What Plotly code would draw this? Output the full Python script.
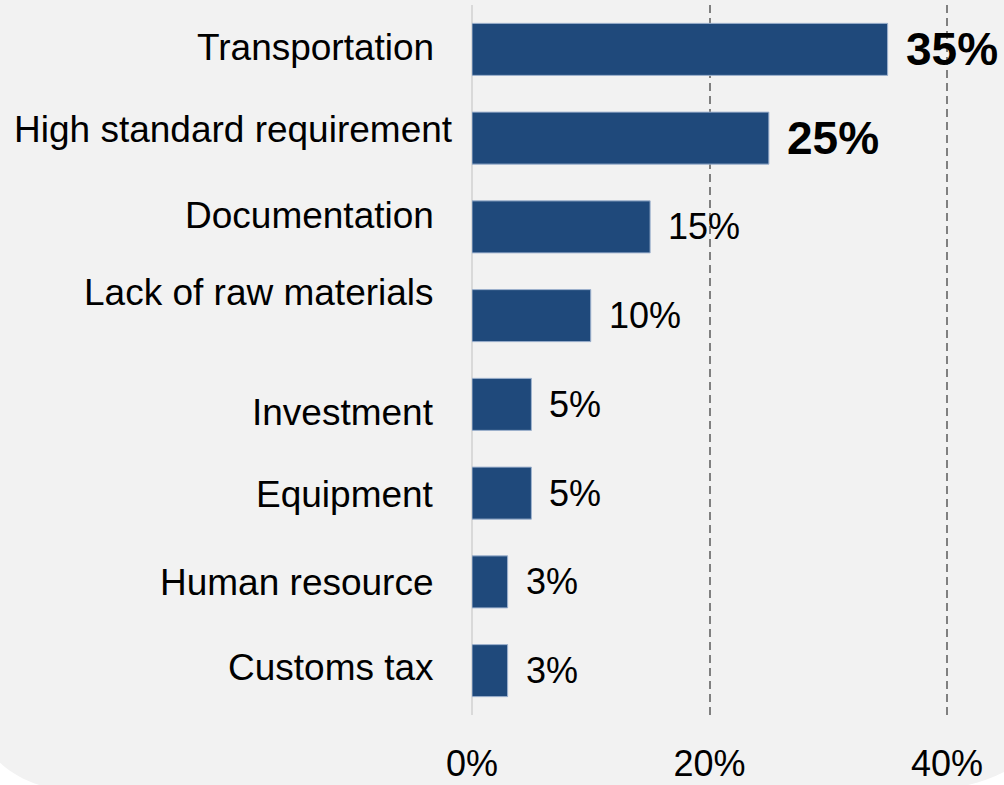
import plotly.graph_objects as go

# Obstacles and share of respondents (%)
categories = [
    "Transportation",
    "High standard requirement",
    "Documentation",
    "Lack of raw materials",
    "Investment",
    "Equipment",
    "Human resource",
    "Customs tax",
]
shares = [35, 25, 15, 10, 5, 5, 3, 3]
highlight = [True, True, False, False, False, False, False, False]
tick_values = [0, 20, 40]
tick_labels = ["0%", "20%", "40%"]

# Per-label nudges (x px, y px) for the category captions
caption_nudges = [(-36, 2), (-17, 9), (-36, 11), (-36, 23),
                  (-36, -8), (-36, -1), (-36, -1), (-36, 3)]

FONT = "Liberation Sans, Arial, sans-serif"
BAR = "#1f497b"
PANEL = "#f2f2f2"

W, H = 1004, 785
ML, MR, MT, MB = 472, 0, 5, 70
PW, PH = W - ML - MR, H - MT - MB
PX_PER_UNIT = 11.875
x_max = PW / PX_PER_UNIT

fig = go.Figure()
fig.add_trace(go.Bar(
    x=shares, y=categories, orientation="h",
    marker=dict(color=BAR, line=dict(color="#9fb3cf", width=1)),
    hoverinfo="skip",
))

# value labels beside each bar
for cat, val, hl in zip(categories, shares, highlight):
    fig.add_annotation(
        x=val, y=cat, xref="x", yref="y",
        text=f"<b>{val}%</b>" if hl else f"{val}%",
        showarrow=False, xanchor="left", yanchor="middle", xshift=16,
        font=dict(family=FONT, size=46 if hl else 36, color="#000000"),
    )

# category captions on the left
for cat, (dx, dy) in zip(categories, caption_nudges):
    fig.add_annotation(
        x=0, y=cat, xref="paper", yref="y", text=cat,
        showarrow=False, xanchor="right", yanchor="middle",
        xshift=dx, yshift=dy,
        font=dict(family=FONT, size=37, color="#000000"),
    )


def to_paper(px, py):
    return (px - ML) / PW, (MT + PH - py) / PH


# rounded grey panel behind the chart
k = 0.5523
left, top, bottom, right = -32.5, -40, 789, 1089
rl, rr = 100, 156
pts = [
    ("M", [(left, top)]),
    ("L", [(left, bottom - rl)]),
    ("C", [(left, bottom - rl + k * rl), (left + rl - k * rl, bottom), (left + rl, bottom)]),
    ("L", [(right - rr, bottom)]),
    ("C", [(right - rr + k * rr, bottom), (right, bottom - rr + k * rr), (right, bottom - rr)]),
    ("L", [(right, top)]),
]
path = ""
for cmd, plist in pts:
    coords = " ".join("%.5f,%.5f" % to_paper(x, y) for x, y in plist)
    path += f"{cmd} {coords} "
path += "Z"
fig.add_shape(type="path", path=path, xref="paper", yref="paper",
              fillcolor=PANEL, line=dict(width=0), layer="below")

fig.update_layout(
    width=W, height=H,
    margin=dict(l=ML, r=MR, t=MT, b=MB, pad=0),
    paper_bgcolor="#ffffff",
    plot_bgcolor="rgba(0,0,0,0)",
    bargap=0.414,
    showlegend=False,
    font=dict(family=FONT, color="#000000"),
)
fig.update_xaxes(
    range=[0, x_max], tickvals=tick_values, ticktext=tick_labels,
    tickfont=dict(family=FONT, size=36, color="#000000"),
    showgrid=True, gridcolor="#808080", gridwidth=1.5, griddash="8px,5px",
    zeroline=True, zerolinecolor="#d9d9d9", zerolinewidth=2,
    showline=False, ticks="", ticklabelstandoff=24, fixedrange=True,
)
fig.update_yaxes(
    autorange="reversed", showticklabels=False, showgrid=False,
    zeroline=False, showline=False, ticks="", fixedrange=True,
)

fig.write_html("out.html", config={"displayModeBar": False})
